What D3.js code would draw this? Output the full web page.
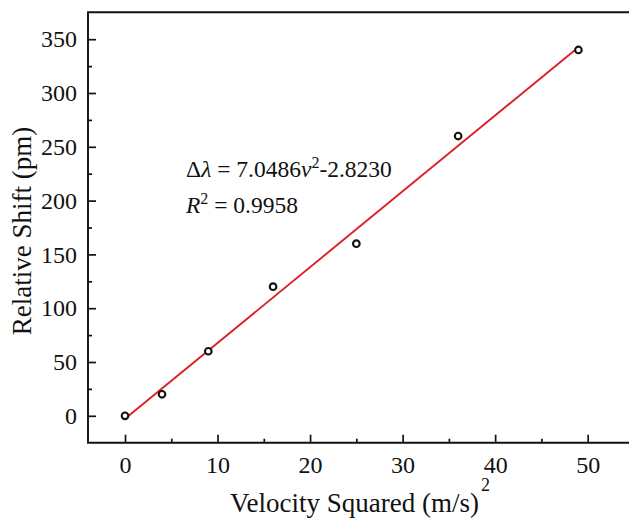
<!DOCTYPE html>
<html>
<head>
<meta charset="utf-8">
<script src="https://cdn.jsdelivr.net/npm/d3@7"></script>
<style>
  body { margin: 0; background: #fff; }
  svg { display: block; }
  text { font-family: "Liberation Serif", "Times New Roman", serif; }
</style>
</head>
<body>
<svg id="chart" width="629" height="518"></svg>
<script>
// Data
const velSquared = [0, 4, 9, 16, 25, 36, 49];
const shift = [0, 20, 60, 120, 160, 260, 340];

// Linear fit shown on the chart
const fitSlope = 7.0486;
const fitIntercept = -2.8230;
const fitRange = [0, 49];

const xTicks = [0, 10, 20, 30, 40, 50];
const xMinor = [5, 15, 25, 35, 45, 55];
const yTicks = [0, 50, 100, 150, 200, 250, 300, 350];
const yMinor = [25, 75, 125, 175, 225, 275, 325];

const svg = d3.select("#chart");
const ink = "#111";
const serif = '"Liberation Serif", "Times New Roman", serif';

const x = d3.scaleLinear().domain([-4, 56]).range([88, 643.2]);
const y = d3.scaleLinear().domain([-25, 375]).range([442.7, 12.3]);

// Frame lines (right side runs off the picture)
svg.append("path")
    .attr("d", `M${x(56)},${y(375)}H${x(-4)}V${y(-25)}H${x(56)}`)
    .attr("fill", "none")
    .attr("stroke", ink)
    .attr("stroke-width", 1.9);

// Major ticks point inward
const xAxis = svg.append("g")
    .attr("transform", `translate(0,${y(-25)})`)
    .call(d3.axisBottom(x).tickValues(xTicks).tickSize(-8).tickSizeOuter(0).tickPadding(13));
const xMinorAxis = svg.append("g")
    .attr("transform", `translate(0,${y(-25)})`)
    .call(d3.axisBottom(x).tickValues(xMinor).tickSize(-4).tickFormat(""));

const yAxis = svg.append("g")
    .attr("transform", `translate(${x(-4)},0)`)
    .call(d3.axisLeft(y).tickValues(yTicks).tickSize(-8).tickSizeOuter(0).tickPadding(11));
const yMinorAxis = svg.append("g")
    .attr("transform", `translate(${x(-4)},0)`)
    .call(d3.axisLeft(y).tickValues(yMinor).tickSize(-4).tickFormat(""));

[xAxis, xMinorAxis, yAxis, yMinorAxis].forEach(g => {
    g.attr("font-family", serif);
    g.select(".domain").remove();
    g.selectAll(".tick line").attr("stroke", ink).attr("stroke-width", 1.7);
    g.selectAll(".tick text")
        .attr("fill", ink)
        .style("font-family", serif)
        .style("font-size", "24px");
});

// Fit line
svg.append("line")
    .attr("x1", x(fitRange[0]))
    .attr("y1", y(fitSlope * fitRange[0] + fitIntercept))
    .attr("x2", x(fitRange[1]))
    .attr("y2", y(fitSlope * fitRange[1] + fitIntercept))
    .attr("stroke", "#dd1f26")
    .attr("stroke-width", 1.9);

// Data points
svg.append("g")
    .selectAll("circle")
    .data(velSquared)
    .join("circle")
    .attr("cx", d => x(d))
    .attr("cy", (d, i) => y(shift[i]))
    .attr("r", 3.3)
    .attr("fill", "#fff")
    .attr("stroke", "#111")
    .attr("stroke-width", 2.1);

// Equation annotation
const eq = svg.append("text")
    .attr("x", 186)
    .attr("y", 177)
    .attr("fill", ink)
    .style("font-family", serif)
    .style("font-size", "23.5px");
eq.append("tspan").text("Δ");
eq.append("tspan").attr("font-style", "italic").text("λ");
eq.append("tspan").text(" = 7.0486");
eq.append("tspan").attr("font-style", "italic").text("v");
eq.append("tspan").attr("dy", -9).style("font-size", "16px").text("2");
eq.append("tspan").attr("dy", 9).text("-2.8230");

const r2 = svg.append("text")
    .attr("x", 186)
    .attr("y", 213)
    .attr("fill", ink)
    .style("font-family", serif)
    .style("font-size", "23.5px");
r2.append("tspan").attr("font-style", "italic").text("R");
r2.append("tspan").attr("dy", -9).style("font-size", "16px").text("2");
r2.append("tspan").attr("dy", 9).text(" = 0.9958");

// Axis titles
const xTitle = svg.append("text")
    .attr("x", 230)
    .attr("y", 512)
    .attr("fill", ink)
    .style("font-family", serif)
    .style("font-size", "27px");
xTitle.append("tspan").text("Velocity Squared (m/s)");
xTitle.append("tspan").attr("dy", -21).attr("dx", 2).style("font-size", "18px").text("2");

svg.append("text")
    .attr("transform", `translate(31,231) rotate(-90)`)
    .attr("text-anchor", "middle")
    .attr("fill", ink)
    .style("font-family", serif)
    .style("font-size", "27px")
    .text("Relative Shift (pm)");
</script>
</body>
</html>
